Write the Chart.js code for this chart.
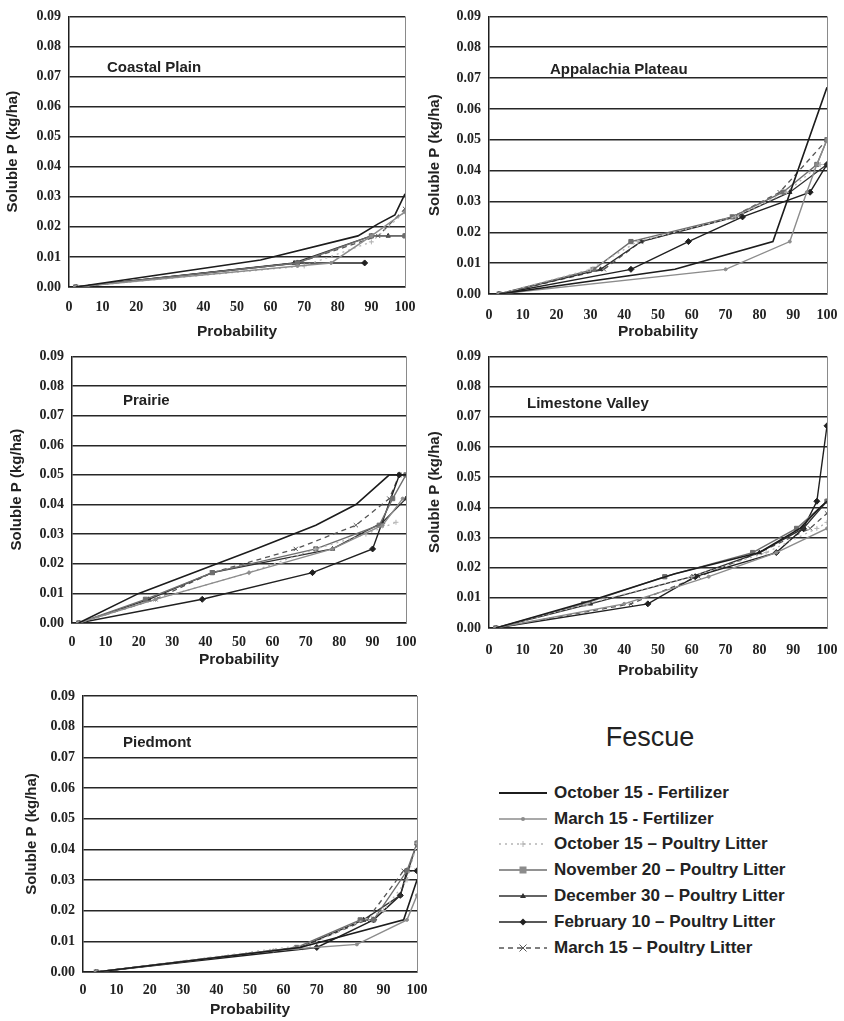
<!DOCTYPE html>
<html>
<head>
<meta charset="utf-8">
<script src="https://cdn.jsdelivr.net/npm/chart.js@4.4.1/dist/chart.umd.min.js"></script>
<style>
  html, body { margin: 0; padding: 0; background: #fff; width: 844px; height: 1021px; overflow: hidden; }
  .panel { position: absolute; }
  #legendTitle { position: absolute; left: 520px; top: 722px; width: 260px; text-align: center;
    font: 27px "Liberation Sans", Arial, sans-serif; color: #222; }
  #legend { position: absolute; left: 497px; top: 780px; font: bold 17px "Liberation Sans", Arial, sans-serif; color: #222; }
  #legend .row { height: 25.8px; display: flex; align-items: center; white-space: nowrap; }
  #legend svg { margin-right: 5px; }
</style>
</head>
<body>
<div class="panel" style="left:0;top:0;width:420px;height:345px"><canvas id="coastal"></canvas></div>
<div class="panel" style="left:420px;top:0;width:424px;height:345px"><canvas id="appalachia"></canvas></div>
<div class="panel" style="left:0;top:340px;width:420px;height:330px"><canvas id="prairie"></canvas></div>
<div class="panel" style="left:420px;top:340px;width:440px;height:340px"><canvas id="limestone"></canvas></div>
<div class="panel" style="left:0;top:670px;width:430px;height:351px"><canvas id="piedmont"></canvas></div>
<div id="legendTitle">Fescue</div>
<div id="legend"></div>

<script>
// treatment names, same order as the inner arrays below
const seriesNames = [
  'October 15 - Fertilizer',
  'March 15 - Fertilizer',
  'October 15 \u2013 Poultry Litter',
  'November 20 \u2013 Poultry Litter',
  'December 30 \u2013 Poultry Litter',
  'February 10 \u2013 Poultry Litter',
  'March 15 \u2013 Poultry Litter',
];

// probability (x) and soluble P in kg/ha (y) per physiographic region
const coastalProb = [
  [2, 57, 86, 92, 97, 100],
  [2, 68, 78, 90, 100],
  [2, 70, 90, 100],
  [2, 68, 90, 100],
  [2, 67, 90, 95, 100],
  [2, 68, 88],
  [2, 68, 92, 100],
];
const coastalP = [
  [0, 0.009, 0.017, 0.021, 0.024, 0.031],
  [0, 0.007, 0.008, 0.017, 0.025],
  [0, 0.007, 0.015, 0.025],
  [0, 0.008, 0.017, 0.017],
  [0, 0.008, 0.017, 0.017, 0.017],
  [0, 0.008, 0.008],
  [0, 0.008, 0.017, 0.026],
];

const appalachiaProb = [
  [3, 55, 84, 100],
  [3, 70, 89, 94, 97, 100],
  [3, 30, 44, 73, 88, 98],
  [3, 31, 42, 72, 87, 97, 100],
  [3, 33, 45, 73, 89, 100],
  [3, 42, 59, 75, 95, 100],
  [3, 34, 45, 72, 86, 100],
];
const appalachiaP = [
  [0, 0.008, 0.017, 0.067],
  [0, 0.008, 0.017, 0.033, 0.042, 0.05],
  [0, 0.008, 0.017, 0.025, 0.033, 0.042],
  [0, 0.008, 0.017, 0.025, 0.033, 0.042, 0.05],
  [0, 0.008, 0.017, 0.025, 0.033, 0.042],
  [0, 0.008, 0.017, 0.025, 0.033, 0.042],
  [0, 0.008, 0.017, 0.025, 0.033, 0.05],
];

const prairieProb = [
  [2, 20, 55, 73, 85, 95, 100],
  [2, 25, 53, 78, 93, 99],
  [2, 25, 53, 73, 88, 97],
  [2, 22, 42, 73, 92, 96, 100],
  [2, 23, 42, 78, 93, 100],
  [2, 39, 72, 90, 98],
  [2, 25, 42, 67, 85, 95, 98],
];
const prairieP = [
  [0, 0.01, 0.025, 0.033, 0.04, 0.05, 0.05],
  [0, 0.008, 0.017, 0.025, 0.033, 0.042],
  [0, 0.008, 0.017, 0.025, 0.03, 0.034],
  [0, 0.008, 0.017, 0.025, 0.033, 0.042, 0.05],
  [0, 0.008, 0.017, 0.025, 0.034, 0.042],
  [0, 0.008, 0.017, 0.025, 0.05],
  [0, 0.008, 0.017, 0.025, 0.033, 0.042, 0.05],
];

const limestoneProb = [
  [2, 30, 55, 80, 92, 98, 100],
  [2, 40, 65, 85, 100],
  [2, 29, 60, 82, 97, 100],
  [2, 28, 52, 78, 91, 100],
  [2, 30, 60, 80, 93, 100],
  [2, 47, 61, 85, 93, 97, 100],
  [2, 42, 62, 80, 95, 100],
];
const limestoneP = [
  [0, 0.009, 0.018, 0.025, 0.033, 0.04, 0.042],
  [0, 0.008, 0.017, 0.025, 0.033],
  [0, 0.008, 0.017, 0.025, 0.033, 0.035],
  [0, 0.008, 0.017, 0.025, 0.033, 0.042],
  [0, 0.008, 0.017, 0.025, 0.033, 0.042],
  [0, 0.008, 0.017, 0.025, 0.033, 0.042, 0.067],
  [0, 0.008, 0.017, 0.025, 0.033, 0.038],
];

const piedmontProb = [
  [4, 65, 96, 100],
  [4, 57, 82, 97, 100],
  [4, 68, 90, 97, 100],
  [4, 64, 83, 87, 97, 100],
  [4, 65, 84, 95, 100],
  [4, 70, 87, 95, 97, 100],
  [4, 65, 85, 96, 100],
];
const piedmontP = [
  [0, 0.008, 0.017, 0.03],
  [0, 0.007, 0.009, 0.017, 0.025],
  [0, 0.009, 0.02, 0.03, 0.042],
  [0, 0.008, 0.017, 0.017, 0.033, 0.042],
  [0, 0.008, 0.017, 0.025, 0.042],
  [0, 0.008, 0.017, 0.025, 0.033, 0.033],
  [0, 0.008, 0.017, 0.033, 0.033],
];

const probTicks = { min: 0, max: 100, step: 10 };
const pTicks = { min: 0, max: 0.09, step: 0.01 };

// line/marker look for each treatment (shared by charts and legend)
const looks = [
  { color: '#1c1c1c', width: 1.6, dash: [], point: false, radius: 0 },
  { color: '#8c8c8c', width: 1.4, dash: [], point: 'circle', radius: 1.5 },
  { color: '#b4b4b4', width: 1.3, dash: [2, 4], point: 'cross', radius: 2.5 },
  { color: '#6e6e6e', width: 1.4, dash: [], point: 'rect', radius: 3 },
  { color: '#303030', width: 1.3, dash: [], point: 'triangle', radius: 2.5 },
  { color: '#202020', width: 1.4, dash: [], point: 'rectRot', radius: 3 },
  { color: '#555555', width: 1.3, dash: [5, 4], point: 'crossRot', radius: 3 },
];

const tickFont = { family: '"Liberation Serif", "Times New Roman", serif', size: 14, weight: 'bold' };
const sansBold = (size) => ({ family: '"Liberation Sans", Arial, sans-serif', size: size, weight: 'bold' });

// panel name written inside the plot, plus a thin frame on the right of the plot area
const panelDecor = {
  id: 'panelDecor',
  beforeDatasetsDraw(chart) {
    const { ctx, chartArea: a } = chart;
    ctx.save();
    ctx.strokeStyle = '#8a8a8a';
    ctx.lineWidth = 1;
    ctx.beginPath();
    ctx.moveTo(a.right + 0.5, a.top);
    ctx.lineTo(a.right + 0.5, a.bottom);
    ctx.stroke();
    ctx.restore();
  },
  afterDraw(chart, args, opts) {
    const { ctx, chartArea: a } = chart;
    ctx.save();
    ctx.font = 'bold 15px "Liberation Sans", Arial, sans-serif';
    ctx.fillStyle = '#222';
    ctx.textBaseline = 'middle';
    ctx.fillText(opts.text, a.left + opts.dx, a.top + opts.dy);
    ctx.restore();
  },
};

function makePanel(id, title, probs, ps, g) {
  const datasets = probs.map((xs, i) => ({
    label: seriesNames[i],
    data: xs.map((x, k) => ({ x: x, y: ps[i][k] })),
    borderColor: looks[i].color,
    backgroundColor: looks[i].color,
    borderWidth: looks[i].width,
    borderDash: looks[i].dash,
    pointStyle: looks[i].point,
    pointRadius: looks[i].radius,
    pointBorderWidth: 1,
    tension: 0,
  }));
  return new Chart(document.getElementById(id), {
    type: 'line',
    data: { datasets: datasets },
    plugins: [panelDecor],
    options: {
      responsive: true,
      maintainAspectRatio: false,
      animation: false,
      events: [],
      layout: { padding: { top: g.top, right: g.right, left: 0, bottom: 0 } },
      plugins: {
        legend: { display: false },
        tooltip: { enabled: false },
        panelDecor: { text: title, dx: g.tx, dy: g.ty },
      },
      scales: {
        x: {
          type: 'linear',
          min: probTicks.min,
          max: probTicks.max,
          afterFit: (s) => { s.height = g.xh; },
          ticks: { stepSize: probTicks.step, font: tickFont, color: '#222', padding: g.xpad, maxRotation: 0 },
          grid: { display: false },
          border: { color: '#1e1e1e', width: 1.5 },
          title: { display: true, text: 'Probability', color: '#222', font: sansBold(15.5),
            padding: { top: 0, bottom: g.xtp } },
        },
        y: {
          min: pTicks.min,
          max: pTicks.max,
          afterFit: (s) => { s.width = g.yw; },
          ticks: { stepSize: pTicks.step, font: tickFont, color: '#222', padding: 8,
            callback: (v) => v.toFixed(2) },
          grid: { color: '#262626', lineWidth: 1.5, drawTicks: false },
          border: { color: '#1e1e1e', width: 1.5 },
          title: { display: true, text: 'Soluble P (kg/ha)', color: '#222', font: sansBold(15),
            padding: { top: g.ytp, bottom: 0 } },
        },
      },
    },
  });
}

makePanel('coastal', 'Coastal Plain', coastalProb, coastalP,
  { top: 8, right: 15, xh: 58, yw: 69, xpad: 4, xtp: 4, ytp: 4, tx: 38, ty: 51 });
makePanel('appalachia', 'Appalachia Plateau', appalachiaProb, appalachiaP,
  { top: 7, right: 17, xh: 51, yw: 69, xpad: 5, xtp: 4, ytp: 6, tx: 61, ty: 53 });
makePanel('prairie', 'Prairie', prairieProb, prairieP,
  { top: 15, right: 14, xh: 47, yw: 72, xpad: 3, xtp: 1, ytp: 8, tx: 51, ty: 44 });
makePanel('limestone', 'Limestone Valley', limestoneProb, limestoneP,
  { top: 15, right: 33, xh: 52, yw: 69, xpad: 6, xtp: 0, ytp: 6, tx: 38, ty: 47 });
makePanel('piedmont', 'Piedmont', piedmontProb, piedmontP,
  { top: 26, right: 13, xh: 49, yw: 83, xpad: 2, xtp: 2, ytp: 23, tx: 40, ty: 47 });

// legend rows: line sample with its marker, then the treatment name
function markerSvg(lk, cx, cy) {
  const r = lk.radius + 0.5;
  const c = lk.color;
  switch (lk.point) {
    case 'circle': return `<circle cx="${cx}" cy="${cy}" r="${r}" fill="${c}"/>`;
    case 'rect': return `<rect x="${cx - r}" y="${cy - r}" width="${2 * r}" height="${2 * r}" fill="#8c8c8c"/>`;
    case 'triangle': return `<path d="M${cx} ${cy - r}L${cx + r} ${cy + r * 0.7}L${cx - r} ${cy + r * 0.7}Z" fill="${c}"/>`;
    case 'rectRot': return `<path d="M${cx} ${cy - r}L${cx + r} ${cy}L${cx} ${cy + r}L${cx - r} ${cy}Z" fill="${c}"/>`;
    case 'cross': return `<path d="M${cx - r} ${cy}H${cx + r}M${cx} ${cy - r}V${cy + r}" stroke="${c}" stroke-width="1"/>`;
    case 'crossRot': return `<path d="M${cx - r} ${cy - r}L${cx + r} ${cy + r}M${cx + r} ${cy - r}L${cx - r} ${cy + r}" stroke="${c}" stroke-width="1"/>`;
    default: return '';
  }
}
const legendBox = document.getElementById('legend');
seriesNames.forEach((name, i) => {
  const lk = looks[i];
  const dash = lk.dash.length ? `stroke-dasharray="${lk.dash.join(' ')}"` : '';
  const row = document.createElement('div');
  row.className = 'row';
  row.innerHTML =
    `<svg width="52" height="12"><line x1="2" y1="6" x2="50" y2="6" stroke="${lk.color}" stroke-width="${lk.width + 0.3}" ${dash}/>` +
    markerSvg(lk, 26, 6) + `</svg><span>${name}</span>`;
  legendBox.appendChild(row);
});
</script>
</body>
</html>
